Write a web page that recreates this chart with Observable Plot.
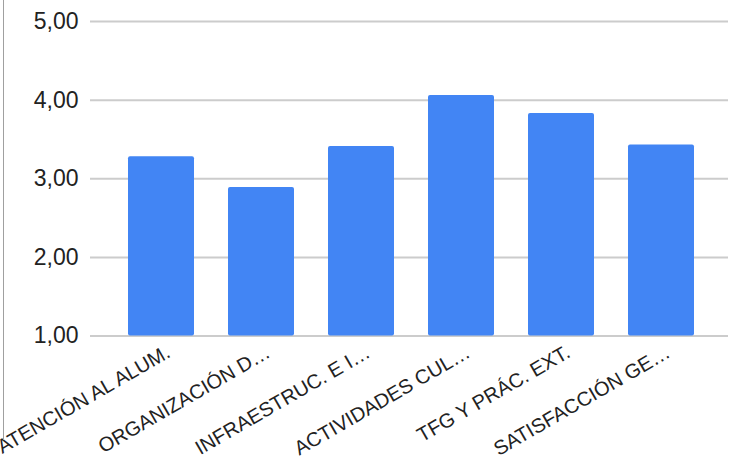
<!DOCTYPE html>
<html>
<head>
<meta charset="utf-8">
<script src="https://cdn.jsdelivr.net/npm/d3@7"></script>
<script src="https://cdn.jsdelivr.net/npm/@observablehq/plot@0.6"></script>
<style>
  html, body { margin: 0; padding: 0; background: #fff; }
  #wrap { position: relative; width: 756px; height: 460px; overflow: hidden; }
  #edge { position: absolute; left: 3px; top: 0; width: 1px; height: 440px; background: #a0a0a0; }
</style>
</head>
<body>
<div id="wrap"><div id="edge"></div></div>
<script>
const categories = [
  "ATENCIÓN AL ALUM.",
  "ORGANIZACIÓN D…",
  "INFRAESTRUC. E I…",
  "ACTIVIDADES CUL…",
  "TFG Y PRÁC. EXT.",
  "SATISFACCIÓN GE…"
];
const values = [3.28, 2.89, 3.41, 4.06, 3.83, 3.43];
const yTickValues = [1, 2, 3, 4, 5];
const yTickLabels = ["1,00", "2,00", "3,00", "4,00", "5,00"];

const data = categories.map((c, i) => ({category: c, value: values[i]}));
const font = "Liberation Sans, Arial, sans-serif";

const chart = Plot.plot({
  width: 756,
  height: 460,
  marginLeft: 90,
  marginRight: 28,
  marginTop: 21,
  marginBottom: 124.5,
  style: {fontFamily: font, background: "transparent", overflow: "visible"},
  x: {domain: categories, paddingInner: 0.34, paddingOuter: 0.17, insetLeft: 20, insetRight: 16, axis: null},
  y: {domain: [1, 5], axis: null},
  marks: [
    Plot.ruleY(yTickValues, {stroke: "#cccccc", strokeWidth: 2}),
    Plot.barY(data, {x: "category", y1: 1, y2: "value", fill: "#4285f4", rx: 2}),
    Plot.axisY({
      ticks: yTickValues,
      tickFormat: (d) => yTickLabels[yTickValues.indexOf(d)],
      tickSize: 0,
      tickPadding: 12,
      fontSize: 23,
      label: null,
      fill: "#222222"
    }),
    Plot.text(categories, {
      x: (d) => d,
      frameAnchor: "bottom",
      rotate: -30,
      textAnchor: "end",
      lineAnchor: "top",
      dx: 3,
      dy: 8,
      fontSize: 20,
      fill: "#222222"
    })
  ]
});
document.getElementById("wrap").appendChild(chart);
</script>
</body>
</html>
